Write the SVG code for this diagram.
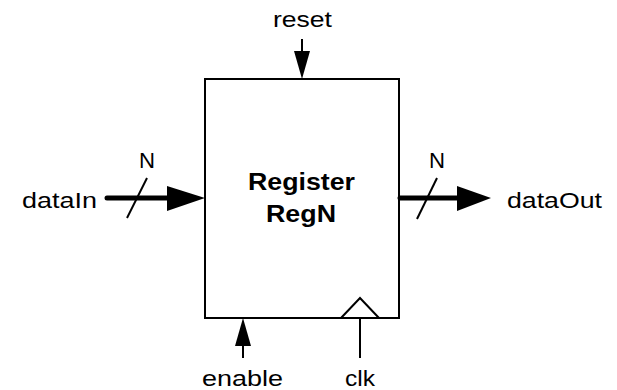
<svg xmlns="http://www.w3.org/2000/svg" width="617" height="390" viewBox="0 0 617 390">
<style>
text{font-family:"Liberation Sans",Arial,sans-serif;font-size:22px;fill:#000}
.b{font-weight:bold;font-size:23px}
.thin{stroke:#000;stroke-width:2;fill:none}
.bus{stroke:#000;stroke-width:5;fill:none;stroke-linecap:round}
</style>
<rect width="617" height="390" fill="#fff"/>
<g id="register">
<rect x="205" y="79" width="194" height="239" fill="#fff" stroke="#000" stroke-width="2"/>
<polyline points="341,318 360,298 379,318" fill="none" stroke="#000" stroke-width="2"/>
<text class="b" x="248" y="190" textLength="107" lengthAdjust="spacingAndGlyphs">Register</text>
<text class="b" x="266" y="222" textLength="70" lengthAdjust="spacingAndGlyphs">RegN</text>
</g>
<g id="connectors">
<line class="thin" x1="302" y1="39" x2="302" y2="55"/>
<polygon points="294,51 310,51 302,79"/>
<line class="thin" x1="243" y1="342" x2="243" y2="358"/>
<polygon points="235,346 251,346 243,318"/>
<line class="thin" x1="360" y1="318" x2="360" y2="358"/>
<line class="bus" x1="107" y1="198" x2="170" y2="198"/>
<polygon points="167,186 205,198 167,211"/>
<line class="thin" x1="127" y1="218" x2="147" y2="178"/>
<line class="bus" x1="400" y1="198" x2="460" y2="198" stroke-linecap="butt"/>
<polygon points="457,186 491,198 457,211"/>
<line class="thin" x1="417" y1="219" x2="437" y2="178"/>
</g>
<g id="labels">
<text x="273" y="27" textLength="59" lengthAdjust="spacingAndGlyphs">reset</text>
<text x="202" y="386" textLength="81" lengthAdjust="spacingAndGlyphs">enable</text>
<text x="345" y="386" textLength="30" lengthAdjust="spacingAndGlyphs">clk</text>
<text x="22" y="208" textLength="75" lengthAdjust="spacingAndGlyphs">dataIn</text>
<text x="507" y="208" textLength="95" lengthAdjust="spacingAndGlyphs">dataOut</text>
<text x="139" y="168" textLength="16" lengthAdjust="spacingAndGlyphs">N</text>
<text x="429" y="168" textLength="16" lengthAdjust="spacingAndGlyphs">N</text>
</g>
</svg>
